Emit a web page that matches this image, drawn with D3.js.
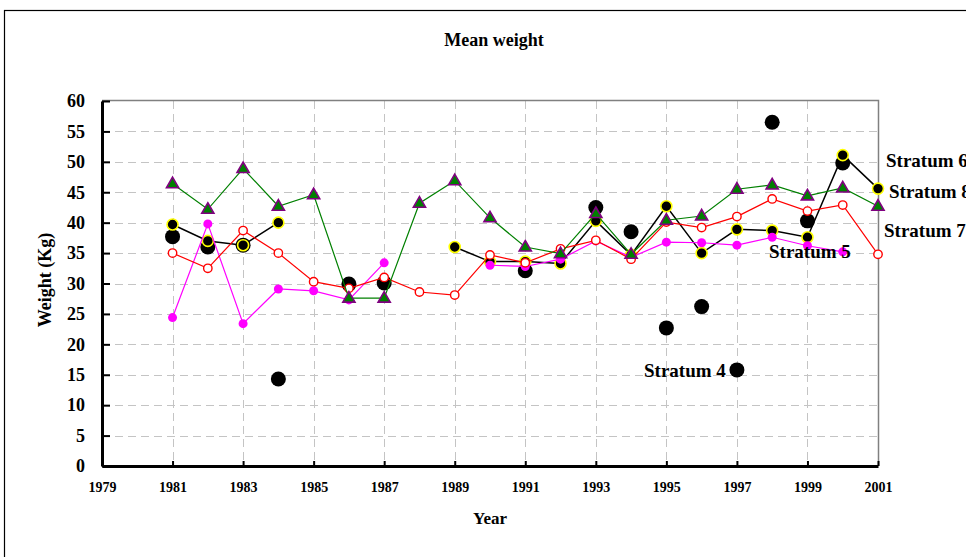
<!DOCTYPE html>
<html>
<head>
<meta charset="UTF-8">
<title>Mean weight</title>
<style>
  body { margin: 0; background: #fff; }
  text { font-family: "Liberation Serif", "Times New Roman", serif; font-weight: bold; }
</style>
</head>
<body>
<script src="https://cdn.jsdelivr.net/npm/d3@7"></script>
<script>
// data
var years = d3.range(1981, 2002);
var yearTicks = d3.range(1979, 2002, 2);
var weightTicks = d3.range(0, 61, 5);

// big black dots, no line
var stratum4 = [37.7, 36.0, 36.3, 14.3, null, 29.9, 30.1, null, null, null, 32.1, null, 42.5, 38.5, 22.7, 26.2, 15.8, 56.5, 40.3, 49.8, null];
// magenta line
var stratum5 = [24.4, 39.8, 23.4, 29.1, 28.8, 27.3, 33.4, null, null, 33.0, 32.8, 34.0, 37.0, 34.3, 36.8, 36.7, 36.3, 37.6, 36.2, 35.2, null];
// black dots with yellow ring
var stratum6 = [39.7, 37.0, 36.3, 40.0, null, null, null, null, 36.0, 33.6, 33.6, 33.3, 40.3, 34.7, 42.7, 35.0, 38.9, 38.7, 37.6, 51.1, 45.6];
// red open circles
var stratum7 = [35.0, 32.5, 38.7, 35.0, 30.3, 29.2, 31.0, 28.6, 28.1, 34.7, 33.4, 35.7, 37.1, 34.0, 40.1, 39.2, 41.0, 43.9, 41.9, 42.9, 34.8];
// green triangles
var stratum8 = [46.4, 42.2, 48.9, 42.7, 44.6, 27.6, 27.6, 43.2, 46.9, 40.8, 36.0, 34.9, 41.5, 34.8, 40.4, 41.1, 45.5, 46.2, 44.4, 45.7, 42.7];

var labels = [
  { text: "Stratum 6", x: 886, y: 167 },
  { text: "Stratum 8", x: 889, y: 198 },
  { text: "Stratum 7", x: 884, y: 237 },
  { text: "Stratum 5", x: 769, y: 258 },
  { text: "Stratum 4", x: 644, y: 377 }
];

var svg = d3.select("body").append("svg")
  .attr("width", 966)
  .attr("height", 557);

// outer frame
svg.append("rect")
  .attr("x", 4.5).attr("y", 10.5)
  .attr("width", 980).attr("height", 560)
  .attr("fill", "none")
  .attr("stroke", "#000")
  .attr("stroke-width", 1.2);

var x = d3.scaleLinear().domain([1979, 2001]).range([102, 878]);
var y = d3.scaleLinear().domain([0, 60]).range([466, 101]);

// grid
var grid = svg.append("g")
  .attr("stroke", "#c4c4c4")
  .attr("stroke-width", 1)
  .attr("stroke-dasharray", "8,5");
grid.selectAll("line.h")
  .data(weightTicks.filter(function(d) { return d > 0 && d < 60; }))
  .enter().append("line")
  .attr("x1", x(1979)).attr("x2", x(2001))
  .attr("y1", function(d) { return Math.round(y(d)) + 0.5; })
  .attr("y2", function(d) { return Math.round(y(d)) + 0.5; });
grid.selectAll("line.v")
  .data(yearTicks.filter(function(d) { return d > 1979 && d < 2001; }))
  .enter().append("line")
  .attr("y1", y(60)).attr("y2", y(0))
  .attr("x1", function(d) { return Math.round(x(d)) + 0.5; })
  .attr("x2", function(d) { return Math.round(x(d)) + 0.5; });

// plot border top and right
svg.append("path")
  .attr("d", "M" + x(1979) + "," + (y(60) - 0.5) + "H" + (x(2001) + 0.5) + "V" + y(0))
  .attr("fill", "none")
  .attr("stroke", "#808080")
  .attr("stroke-width", 1.5);

// axes
var yAxis = svg.append("g")
  .attr("transform", "translate(" + x(1979) + ",0)")
  .call(d3.axisLeft(y).tickValues(weightTicks).tickSize(-8).tickSizeOuter(0).tickPadding(17));
yAxis.select(".domain").attr("stroke-width", 3);
yAxis.selectAll(".tick line").attr("stroke-width", 2);
yAxis.selectAll(".tick text").style("font-size", "18px").attr("fill", "#000");

var xAxis = svg.append("g")
  .attr("transform", "translate(0," + y(0) + ")")
  .call(d3.axisBottom(x).tickValues(yearTicks).tickFormat(d3.format("d")).tickSize(-5).tickSizeOuter(0).tickPadding(16));
xAxis.select(".domain").attr("stroke-width", 3);
xAxis.selectAll(".tick line").attr("stroke-width", 2);
xAxis.selectAll(".tick text").style("font-size", "14px").attr("fill", "#000");

// titles
svg.append("text")
  .attr("x", 494).attr("y", 46)
  .attr("text-anchor", "middle")
  .style("font-size", "18px")
  .text("Mean weight");
svg.append("text")
  .attr("x", 490).attr("y", 524)
  .attr("text-anchor", "middle")
  .style("font-size", "17px")
  .text("Year");
svg.append("text")
  .attr("transform", "translate(51,280) rotate(-90)")
  .attr("text-anchor", "middle")
  .style("font-size", "18px")
  .text("Weight (Kg)");

function pts(values) {
  return years.map(function(yr, i) { return { year: yr, v: values[i] }; })
    .filter(function(d) { return d.v !== null; });
}

var line = d3.line()
  .defined(function(d) { return d.v !== null; })
  .x(function(d) { return x(d.year); })
  .y(function(d) { return y(d.v); });

function drawLine(values, color, width) {
  var all = years.map(function(yr, i) { return { year: yr, v: values[i] }; });
  svg.append("path")
    .datum(all)
    .attr("d", line)
    .attr("fill", "none")
    .attr("stroke", color)
    .attr("stroke-width", width);
}

// stratum 4: big dots
svg.append("g").selectAll("circle")
  .data(pts(stratum4))
  .enter().append("circle")
  .attr("cx", function(d) { return x(d.year); })
  .attr("cy", function(d) { return y(d.v); })
  .attr("r", 7.5)
  .attr("fill", "#000");

// stratum 6
drawLine(stratum6, "#000", 1.5);
svg.append("g").selectAll("circle")
  .data(pts(stratum6))
  .enter().append("circle")
  .attr("cx", function(d) { return x(d.year); })
  .attr("cy", function(d) { return y(d.v); })
  .attr("r", 5.5)
  .attr("fill", "#000")
  .attr("stroke", "#ffff00")
  .attr("stroke-width", 1.6);

// stratum 5
drawLine(stratum5, "#ff00ff", 1.2);
svg.append("g").selectAll("circle")
  .data(pts(stratum5))
  .enter().append("circle")
  .attr("cx", function(d) { return x(d.year); })
  .attr("cy", function(d) { return y(d.v); })
  .attr("r", 4.5)
  .attr("fill", "#ff00ff");

// stratum 7
drawLine(stratum7, "#ff0000", 1.2);
svg.append("g").selectAll("circle")
  .data(pts(stratum7))
  .enter().append("circle")
  .attr("cx", function(d) { return x(d.year); })
  .attr("cy", function(d) { return y(d.v); })
  .attr("r", 4.2)
  .attr("fill", "#fff")
  .attr("stroke", "#ff0000")
  .attr("stroke-width", 1.4);

// stratum 8
drawLine(stratum8, "#008000", 1.2);
var tri = d3.symbol().type(d3.symbolTriangle).size(64);
svg.append("g").selectAll("path")
  .data(pts(stratum8))
  .enter().append("path")
  .attr("d", tri)
  .attr("transform", function(d) { return "translate(" + x(d.year) + "," + (y(d.v) + 0.5) + ")"; })
  .attr("fill", "#008000")
  .attr("stroke", "#800080")
  .attr("stroke-width", 1.6);

// series labels
svg.append("g").selectAll("text")
  .data(labels)
  .enter().append("text")
  .attr("x", function(d) { return d.x; })
  .attr("y", function(d) { return d.y; })
  .style("font-size", "19px")
  .text(function(d) { return d.text; });
</script>
</body>
</html>
